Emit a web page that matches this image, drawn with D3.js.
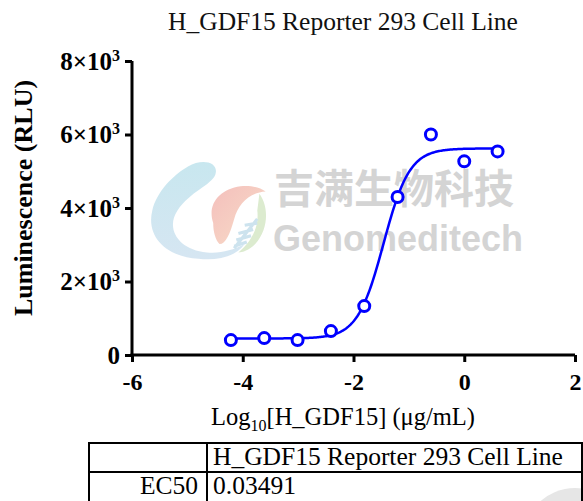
<!DOCTYPE html>
<html>
<head>
<meta charset="utf-8">
<script src="https://cdn.jsdelivr.net/npm/d3@7"></script>
<style>
  body { margin: 0; background: #fff; }
  svg { display: block; }
</style>
</head>
<body>
<svg id="chart"></svg>
<script>
// data
let logConc = [-4.214, -3.612, -3.010, -2.408, -1.806, -1.204, -0.602, 0.0, 0.602];
let signal = [405, 460, 405, 650, 1330, 4300, 6000, 5270, 5540];

// fitted 4PL parameters (EC50 from the table)
let fitBottom = 450;
let fitTop = 5620;
let ec50 = 0.03491;
let hillSlope = 1.85;

let xTicks = [-6, -4, -2, 0, 2];
let yTicks = [0, 2000, 4000, 6000, 8000];

let tableHeader = ['', 'H_GDF15 Reporter 293 Cell Line'];
let tableRow = ['EC50', '0.03491'];

let width = 583;
let height = 501;
let serif = '"Liberation Serif", "Times New Roman", serif';
let blue = '#0000ff';

let svg = d3.select('#chart')
    .attr('width', width)
    .attr('height', height);

let xScale = d3.scaleLinear().domain([-6, 2]).range([132, 575]);
let yScale = d3.scaleLinear().domain([0, 8000]).range([355, 61]);

/* watermark behind the plot */
let drawWatermark = () => {
    let wm = svg.append('g').attr('id', 'watermark');
    let defs = svg.append('defs');
    let g1 = defs.append('linearGradient').attr('id', 'swirl').attr('x1', 0).attr('y1', 0).attr('x2', 0).attr('y2', 1);
    g1.append('stop').attr('offset', 0).attr('stop-color', '#c8e7ef');
    g1.append('stop').attr('offset', 1).attr('stop-color', '#d6e6f2');
    let g2 = defs.append('linearGradient').attr('id', 'drop').attr('x1', 0).attr('y1', 0).attr('x2', 1).attr('y2', 1);
    g2.append('stop').attr('offset', 0).attr('stop-color', '#f4bfbc');
    g2.append('stop').attr('offset', 1).attr('stop-color', '#f8ddc8');

    let logo = wm.append('g').attr('transform', 'translate(146,158) scale(1.05)');
    logo.append('path')
        .attr('d', 'M40,8 C54,0 70,4 66,16 C62,26 42,32 30,50 C18,68 32,88 58,90 C72,91 82,88 94,82 C86,94 68,98 50,96 C18,94 0,74 6,50 C10,32 26,16 40,8 Z')
        .attr('fill', 'url(#swirl)');
    logo.append('path')
        .attr('d', 'M64,62 C58,44 70,30 90,27 C100,26 108,28 114,32 C98,33 88,44 84,58 C80,72 76,82 70,82 C66,78 64,70 64,62 Z')
        .attr('fill', 'url(#drop)');
    logo.append('path')
        .attr('d', 'M108,34 C117,46 117,68 104,82 C98,88 92,90 88,90 C100,80 108,66 106,50 Z')
        .attr('fill', '#dcebcf');
    logo.append('path')
        .attr('d', 'M84,86 L106,58 M88,72 L102,68 M86,78 L100,74 M84,84 L96,80 M94,64 L106,62')
        .attr('stroke', '#cde3ee')
        .attr('stroke-width', 3)
        .attr('fill', 'none');

    wm.append('text')
        .attr('x', 394).attr('y', 203)
        .attr('text-anchor', 'middle')
        .attr('font-family', '"Noto Sans CJK SC", sans-serif')
        .attr('font-weight', 'bold')
        .attr('font-size', 40)
        .attr('fill', '#d4d4d4')
        .text('吉满生物科技');
    wm.append('text')
        .attr('x', 398).attr('y', 251)
        .attr('text-anchor', 'middle')
        .attr('font-family', '"Liberation Sans", Arial, sans-serif')
        .attr('font-weight', 'bold')
        .attr('font-size', 36)
        .attr('fill', '#d4d4d4')
        .text('Genomeditech');

    wm.append('circle')
        .attr('cx', 575).attr('cy', 540)
        .attr('r', 52)
        .attr('fill', '#e6e6e6');
};

let drawTitle = () => {
    svg.append('text')
        .attr('x', 343).attr('y', 30)
        .attr('text-anchor', 'middle')
        .attr('font-family', serif)
        .attr('font-size', 25.5)
        .attr('fill', '#111')
        .text('H_GDF15 Reporter 293 Cell Line');
};

let drawAxes = () => {
    let xAxis = d3.axisBottom(xScale)
        .tickValues(xTicks)
        .tickSize(7)
        .tickSizeOuter(0)
        .tickPadding(11)
        .tickFormat(d => d < 0 ? '-' + Math.abs(d) : d);
    let yAxis = d3.axisLeft(yScale)
        .tickValues(yTicks)
        .tickSize(7)
        .tickSizeOuter(0)
        .tickPadding(5)
        .tickFormat(() => '');

    let gx = svg.append('g')
        .attr('id', 'x-axis')
        .attr('transform', 'translate(0,' + yScale(0) + ')')
        .call(xAxis);
    let gy = svg.append('g')
        .attr('id', 'y-axis')
        .attr('transform', 'translate(' + xScale(-6) + ',0)')
        .call(yAxis);

    [gx, gy].forEach(g => {
        g.selectAll('path, line')
            .attr('stroke', '#000')
            .attr('stroke-width', 3);
        g.selectAll('text')
            .attr('font-family', serif)
            .attr('font-weight', 'bold')
            .attr('font-size', 24)
            .attr('fill', '#000');
    });
    gx.select('.domain').attr('d', 'M' + (xScale(-6) - 1.5) + ',0H' + xScale(2));
    gy.select('.domain').attr('d', 'M0,' + (yScale(0) + 1.5) + 'V' + yScale(8000));

    // y tick labels as a×10^3
    gy.selectAll('.tick text').each(function (d) {
        let t = d3.select(this);
        t.attr('font-size', 25);
        if (d === 0) { t.text('0'); return; }
        t.append('tspan').text((d / 1000) + '×10');
        t.append('tspan')
            .attr('dy', -9)
            .attr('font-size', 16)
            .text('3');
    });

    // axis titles
    svg.append('text')
        .attr('transform', 'translate(32,' + 198 + ') rotate(-90)')
        .attr('text-anchor', 'middle')
        .attr('font-family', serif)
        .attr('font-weight', 'bold')
        .attr('font-size', 26)
        .attr('fill', '#000')
        .text('Luminescence (RLU)');

    let xl = svg.append('text')
        .attr('x', 343).attr('y', 425)
        .attr('text-anchor', 'middle')
        .attr('font-family', serif)
        .attr('font-size', 24.5)
        .attr('fill', '#000');
    xl.append('tspan').text('Log');
    xl.append('tspan').attr('dy', 6).attr('font-size', 16).text('10');
    xl.append('tspan').attr('dy', -6).text('[H_GDF15] (μg/mL)');
};

let drawFit = () => {
    let logEC50 = Math.log10(ec50);
    let xs = d3.range(d3.min(logConc), d3.max(logConc) + 0.001, 0.02);
    let fit = xs.map(x => [x, fitBottom + (fitTop - fitBottom) / (1 + Math.pow(10, (logEC50 - x) * hillSlope))]);
    svg.append('path')
        .datum(fit)
        .attr('fill', 'none')
        .attr('stroke', blue)
        .attr('stroke-width', 2.5)
        .attr('d', d3.line().x(d => xScale(d[0])).y(d => yScale(d[1])));
};

let drawPoints = () => {
    svg.selectAll('circle.pt')
        .data(logConc.map((x, i) => [x, signal[i]]))
        .enter()
        .append('circle')
        .attr('class', 'pt')
        .attr('cx', d => xScale(d[0]))
        .attr('cy', d => yScale(d[1]))
        .attr('r', 5.5)
        .attr('fill', '#fff')
        .attr('stroke', blue)
        .attr('stroke-width', 3);
};

let drawTable = () => {
    let t = svg.append('g').attr('id', 'ec50-table');
    let left = 89, mid = 207, right = 582, top = 443, rowH = 29;
    t.append('rect')
        .attr('x', left).attr('y', top)
        .attr('width', right - left).attr('height', rowH * 2 + 10)
        .attr('fill', 'none').attr('stroke', '#000').attr('stroke-width', 2);
    t.append('line')
        .attr('x1', left).attr('x2', right)
        .attr('y1', top + rowH).attr('y2', top + rowH)
        .attr('stroke', '#000').attr('stroke-width', 2);
    t.append('line')
        .attr('x1', mid).attr('x2', mid)
        .attr('y1', top).attr('y2', height + 5)
        .attr('stroke', '#000').attr('stroke-width', 2);

    let rows = [tableHeader, tableRow];
    rows.forEach((r, i) => {
        t.append('text')
            .attr('x', mid - 9).attr('y', top + rowH * i + 22)
            .attr('text-anchor', 'end')
            .attr('font-family', serif).attr('font-size', 25.5)
            .text(r[0]);
        t.append('text')
            .attr('x', mid + 6).attr('y', top + rowH * i + 22)
            .attr('font-family', serif).attr('font-size', 25.5)
            .text(r[1]);
    });
};

drawWatermark();
drawTitle();
drawTable();
drawAxes();
drawFit();
drawPoints();
</script>
</body>
</html>
